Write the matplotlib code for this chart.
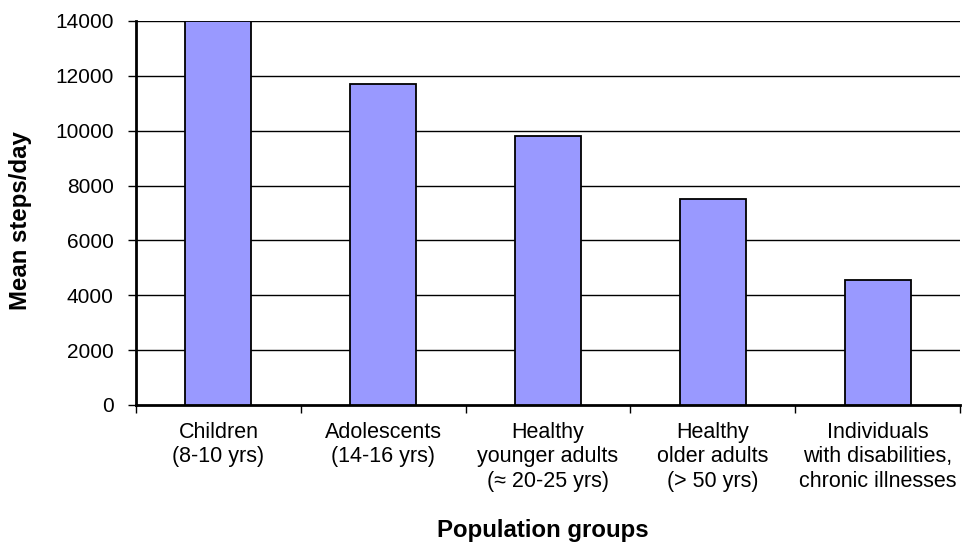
import matplotlib
matplotlib.use('Agg')
import matplotlib.pyplot as plt
import numpy as np

# data
groups = ['Children\n(8-10 yrs)', 'Adolescents\n(14-16 yrs)',
          'Healthy\nyounger adults\n(\u2248 20-25 yrs)',
          'Healthy\nolder adults\n(> 50 yrs)',
          'Individuals\nwith disabilities,\nchronic illnesses']
steps = [14000, 11700, 9800, 7500, 4550]
yticks = [0, 2000, 4000, 6000, 8000, 10000, 12000, 14000]

plt.rcParams['font.family'] = ['Liberation Sans', 'DejaVu Sans']

fig = plt.figure(figsize=(9.67, 5.46), dpi=100)
ax = fig.add_axes([136/967, 1-405/546, 824/967, 384/546])

x = np.arange(len(groups))
ax.bar(x, steps, width=0.4, color='#9999FF', edgecolor='black', linewidth=1.3, zorder=3)

ax.set_xlim(-0.5, len(groups) - 0.5)
ax.set_ylim(0, 14000)
ax.set_yticks(yticks)
ax.set_yticklabels([str(v) for v in yticks], fontsize=15)
for v in yticks[1:]:
    ax.axhline(v, color='black', linewidth=1, zorder=1)

# category labels at centres, ticks at boundaries
ax.set_xticks(x)
ax.set_xticklabels(groups, fontsize=15.5, linespacing=1.22)
ax.set_xticks(np.arange(len(groups) + 1) - 0.5, minor=True)
ax.tick_params(axis='x', which='major', length=0, pad=12)
ax.tick_params(axis='x', which='minor', length=6, width=1, direction='out')
ax.tick_params(axis='y', length=6, width=1, direction='out', pad=10)

for s in ['top', 'right']:
    ax.spines[s].set_visible(False)
ax.spines['left'].set_linewidth(2)
ax.spines['bottom'].set_linewidth(2)

fig.text(21/967, 1-221/546, 'Mean steps/day', rotation=90, fontsize=17.3,
         fontweight='bold', ha='center', va='center')
fig.text(543/967, 1-531/546, 'Population groups', fontsize=17.3,
         fontweight='bold', ha='center', va='center')

fig.savefig('out.png', dpi=100)
